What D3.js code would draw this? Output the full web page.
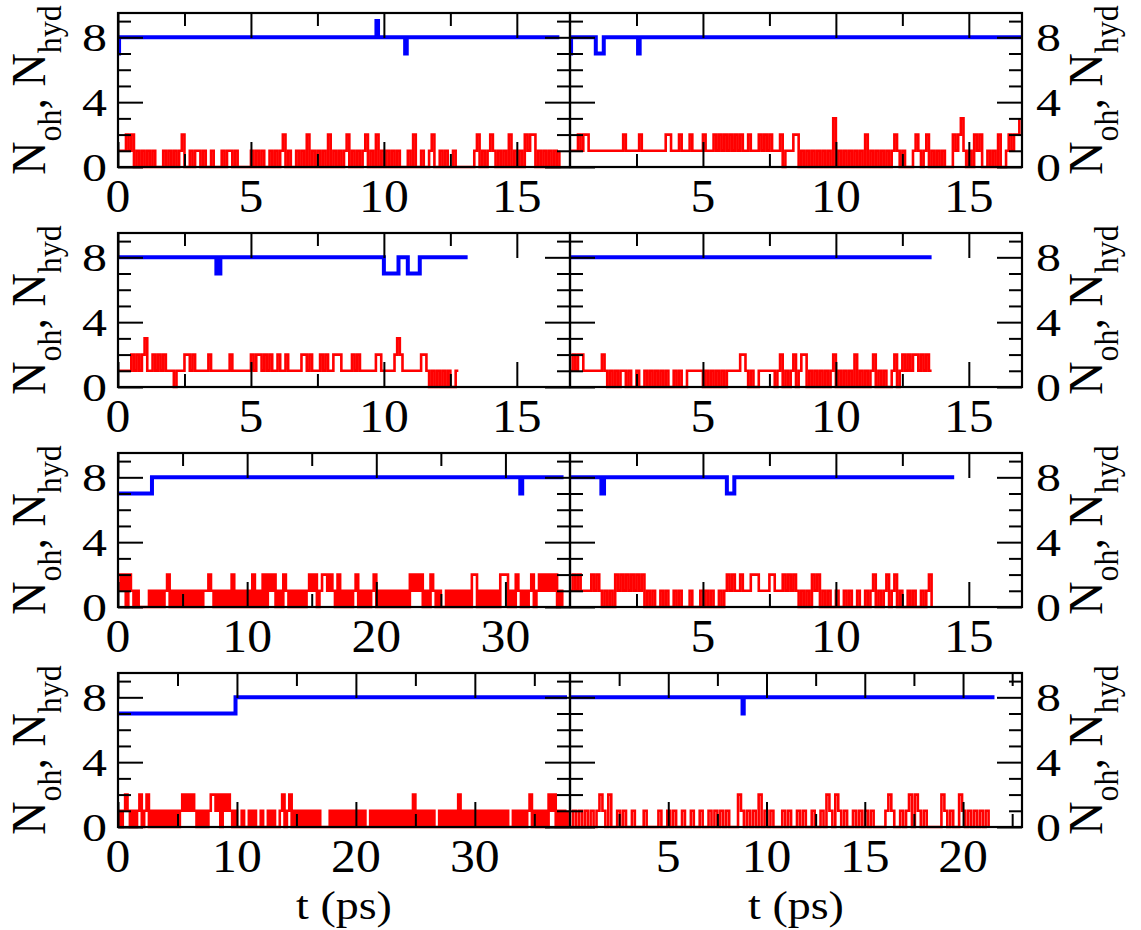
<!DOCTYPE html>
<html><head><meta charset="utf-8">
<script src="https://cdn.jsdelivr.net/npm/d3@7"></script>
</head><body style="margin:0;background:#fff">
<svg id="c" width="1141" height="930"></svg>
<script>
// ---------------- data ----------------
// x-axis extent (ps) of each panel, order: row by row, left then right
const xDomainMax = [17, 17, 17, 17, 35, 17, 38, 23];
const xLabelTicks = [[0,5,10,15],[5,10,15],[0,5,10,15],[5,10,15],[0,10,20,30],[5,10,15],[0,10,20,30],[5,10,15,20]];
const xMinorTicks = [[2.5,7.5,12.5],[2.5,7.5,12.5],[2.5,7.5,12.5],[2.5,7.5,12.5],[5,15,25],[2.5,7.5,12.5],[5,15,25,35],[2.5,7.5,12.5,17.5,22.5]];
const yLabelTicks = [0, 4, 8];
const yMinorTicks = [1, 2, 3, 5, 6, 7, 9];

// N_oh samples (one digit per sample), sampling step in ps per panel
const sampleStep = [0.1, 0.1, 0.1, 0.1, 0.2, 0.1, 0.2, 0.15];
const nOH_1 = "1112120101 0101000101 0101200101 1010010001 0110100000 1010100101 0120100101 0201010102 0101012010 1012010201 0101010001 0200100120 0101001000 0000120101 2101010201 0102122010 1010101";
const nOH_2 = "1112122111 1111111111 2111112111 1111112211 1211121111 2111212121 2121211211 1212121112 0111220101 0101010103 0101010101 0201010101 0121010001 2101201010 1000212310 1021200101 0200121223";
const nOH_3 = "1111121212 3112121211 1011122121 1111211111 1121111111 2122121211 2112111112 2121112121 1222111121 2111111221 1111232111 1111221010 101010011";
const nOH_4 = "1212211111 1121010101 1010010010 1010101001 0100111111 0101010101 1111221010 0111111012 0101201220 1010101012 0101010201 0101201010 0120121212 2121211";
const nOH_5 = "2120210100 0010101012 0101010101 0101121010 1010201010 1020102021 2010210101 0101212012 2121020101 0120101012 0101010101 0102121201 0210100101 0101010220 1010101022 2010210101 2012121212 010";
const nOH_6 = "1212111121 2101010212 1212121201 0100101001 0100010001 0101001012 1211211122 2111122111 2121210101 0212010100 1001010010 0101201012 0120100101 0010120";
const nOH_7 = "1012101012 0120101010 1010101212 1210101012 2120212101 0010010100 1001010012 0120101010 1010100001 0101010101 0101001010 1010101010 1010201010 1010010101 0102010101 0101010101 0101001010 1012010101 0212010101";
const nOH_8 = "0101010101 2102001010 0100010000 1001010010 0100100101 0101000210 1010201010 0010100101 0010010210 2101001010 1010000121 0010120210 1000002101 0021010101 010";

// N_hyd change points [t (ps), value]; last point = end of trace
const nHyd_1 = [[0,7],[0.04,8],[9.72,9],[9.78,8],[10.8,7],[10.86,8],[16.6,8]];
const nHyd_2 = [[0,7],[0.04,8],[0.97,7],[1.27,8],[2.56,7],[2.62,8],[17,8]];
const nHyd_3 = [[0,8],[3.7,7],[3.85,8],[10.0,7],[10.55,8],[10.9,7],[11.35,8],[13.15,8]];
const nHyd_4 = [[0,8],[13.6,8]];
const nHyd_5 = [[0,7],[2.63,8],[31.15,7],[31.3,8],[34.5,8]];
const nHyd_6 = [[0,8],[1.18,7],[1.28,8],[5.9,7],[6.18,8],[14.45,8]];
const nHyd_7 = [[0,7],[9.88,8],[37.75,8]];
const nHyd_8 = [[0,8],[8.78,7],[8.84,8],[21.6,8]];

const nOHAll = [nOH_1,nOH_2,nOH_3,nOH_4,nOH_5,nOH_6,nOH_7,nOH_8];
const nHydAll = [nHyd_1,nHyd_2,nHyd_3,nHyd_4,nHyd_5,nHyd_6,nHyd_7,nHyd_8];

// ---------------- layout ----------------
const FONT = '"Liberation Serif"';
const svg = d3.select("#c");
const W = 452, H = 154;
const colX = [118, 570];
const rowY = [13, 233, 453, 673];
const yDomain = [0, 9.5];
const MAJ = 25, MIN = 13;

const y = d3.scaleLinear().domain(yDomain).range([H, 0]);

function stretchText(g, x, yy, sx, rot) {
  return g.append("text").style("font-family", FONT).attr("fill", "#000")
    .attr("transform", `translate(${x},${yy}) scale(${sx},1)` + (rot ? ` rotate(${rot})` : ""));
}

for (let p = 0; p < 8; p++) {
  const r = Math.floor(p / 2), c = p % 2;
  const g = svg.append("g").attr("transform", `translate(${colX[c]},${rowY[r]})`);
  const x = d3.scaleLinear().domain([0, xDomainMax[p]]).range([0, W]);

  // N_oh (red)
  const dt = sampleStep[p];
  const pts = nOHAll[p].replace(/\s/g, "").split("").map((ch, i) => ({t: i * dt, v: +ch}));
  g.append("path").datum(pts)
    .attr("d", d3.line().x(d => x(d.t)).y(d => y(d.v)).curve(d3.curveStepAfter))
    .attr("fill", "none").attr("stroke", "#ff0000").attr("stroke-width", 2.6);

  // N_hyd (blue)
  g.append("path").datum(nHydAll[p])
    .attr("d", d3.line().x(d => x(d[0])).y(d => y(d[1])).curve(d3.curveStepAfter))
    .attr("fill", "none").attr("stroke", "#0000ff").attr("stroke-width", 4);

  // ticks (inward, all four sides)
  const axes = [
    [d3.axisBottom(x), `translate(0,${H})`, xLabelTicks[p], xMinorTicks[p]],
    [d3.axisTop(x), `translate(0,0)`, xLabelTicks[p], xMinorTicks[p]],
    [d3.axisLeft(y), `translate(0,0)`, yLabelTicks, yMinorTicks],
    [d3.axisRight(y), `translate(${W},0)`, yLabelTicks, yMinorTicks]
  ];
  axes.forEach(([ax, tr, maj, mn]) => {
    [[maj, MAJ], [mn, MIN]].forEach(([vals, len]) => {
      const a = g.append("g").attr("transform", tr)
        .call(ax.tickValues(vals).tickSize(-len).tickSizeOuter(0).tickFormat(""));
      a.select(".domain").remove();
      a.selectAll("line").attr("stroke", "#000").attr("stroke-width", 2);
    });
  });

  // frame
  g.append("rect").attr("x", 0).attr("y", 0).attr("width", W).attr("height", H)
    .attr("fill", "none").attr("stroke", "#000").attr("stroke-width", 2.2);

  // x tick labels
  xLabelTicks[p].forEach(v => {
    stretchText(g, x(v), H + 45, 1.08).attr("text-anchor", "middle")
      .attr("font-size", 46).text(v);
  });
  // y tick labels
  yLabelTicks.forEach(v => {
    const t = stretchText(g, c === 0 ? -11 : W + 14, y(v), 1.25)
      .attr("dy", "0.34em").attr("font-size", 40).text(v);
    t.attr("text-anchor", c === 0 ? "end" : "start");
  });
  // y title
  const tx = c === 0 ? -73 : W + 80;
  const tt = stretchText(g, tx, 77, 1.05, -90).attr("text-anchor", "middle").attr("font-size", 46);
  tt.append("tspan").text("N");
  tt.append("tspan").attr("font-size", 32).attr("dy", 15).text("oh");
  tt.append("tspan").attr("dy", -15).text(", N");
  tt.append("tspan").attr("font-size", 32).attr("dy", 15).text("hyd");

  // x title on bottom row
  if (r === 3) {
    stretchText(g, W / 2, H + 92, 1.15).attr("text-anchor", "middle")
      .attr("font-size", 40).text("t (ps)");
  }
}
</script>
</body></html>
